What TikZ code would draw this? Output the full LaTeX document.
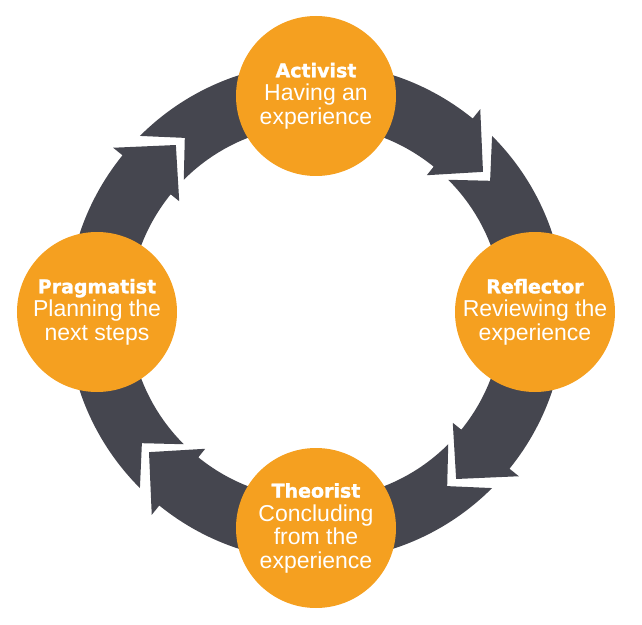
\documentclass[tikz,border=0pt]{standalone}
\usepackage{fontspec}
\setmainfont{Liberation Sans}
\newfontfamily\headfont{DejaVu Sans}[BoldFeatures={FakeBold=1.5}]
\definecolor{stageorange}{HTML}{F5A020}
\definecolor{ringgrey}{HTML}{45464F}
\tikzset{
  stage/.style={circle, fill=stageorange, minimum size=160pt, inner sep=0pt,
    text=white, align=center, font=\fontsize{23}{23.5}\selectfont},
  ringpart/.style={fill=ringgrey},
}
\newcommand{\stagehead}[1]{{\headfont\bfseries\fontsize{19}{24}\selectfont #1}}

\begin{document}
\begin{tikzpicture}[x=1pt,y=1pt]
    \useasboundingbox (-316,-312) rectangle (326,312);
    % ring pieces, each one runs under a stage and ends in a head
    \foreach \c in {90,0,-90,-180}
    \fill[ringpart] ({\c+45}:249) arc[start angle=\c+45, end angle=\c-39, radius=249]
        -- ({\c-39}:261) -- ({\c-50}:218) -- ({\c-39}:176) -- ({\c-39}:187)
        arc[start angle=\c-39, end angle=\c+45, radius=187]
        -- ({\c+37}:218) -- cycle;
    % the four stages
    \node[stage] (act) at (90:216) {\stagehead{Activist}\\Having an\\experience};
    \node[stage] (ref) at (0:219) {\stagehead{Reflector}\\Reviewing the\\experience};
    \node[stage] (the) at (-90:216) {\stagehead{Theorist}\\Concluding\\from the\\experience};
    \node[stage] (pra) at (180:219) {\stagehead{Pragmatist}\\Planning the\\next steps};
\end{tikzpicture}
\end{document}
